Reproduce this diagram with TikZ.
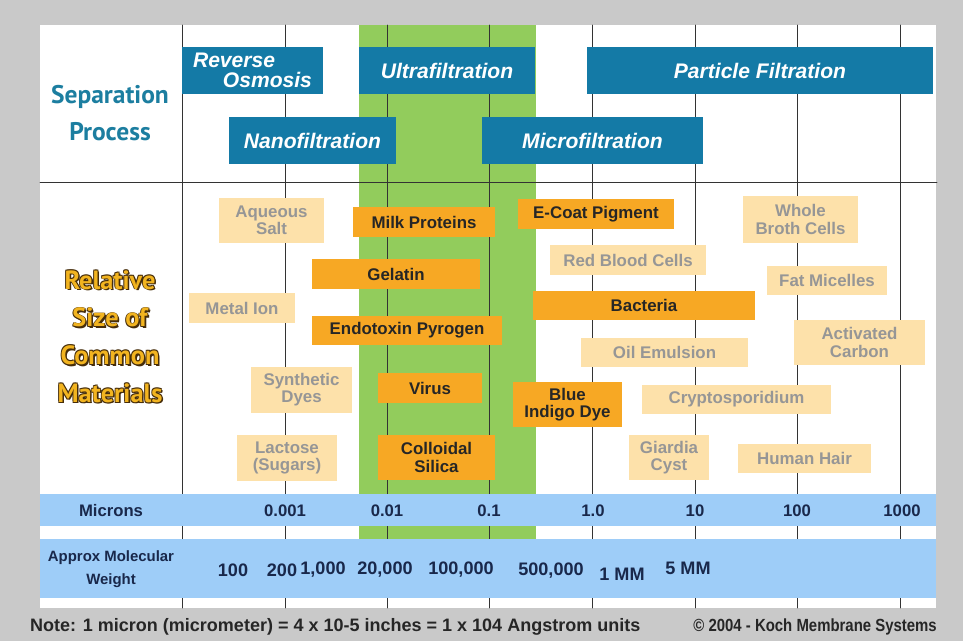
\documentclass[tikz,border=0pt]{standalone}
\usepackage{fontspec}
\usepackage{graphicx}
\setmainfont{Liberation Sans}
\newfontfamily\headfont{PT Sans}

\definecolor{panelgray}{RGB}{201,201,201}
\definecolor{sepblue}{RGB}{20,122,166}
\definecolor{headblue}{RGB}{28,126,160}
\definecolor{ufgreen}{RGB}{146,204,92}
\definecolor{bandblue}{RGB}{158,205,248}
\definecolor{darkorange}{RGB}{247,168,36}
\definecolor{paleorange}{RGB}{253,225,170}
\definecolor{palegray}{RGB}{150,150,150}
\definecolor{navytext}{RGB}{25,40,75}
\definecolor{goldtext}{RGB}{242,180,32}
\definecolor{shadowbrown}{RGB}{70,45,10}

\begin{document}
\begin{tikzpicture}[x=0.02cm, y=-0.02cm, line cap=round, line join=round,
  boxsize/.style 2 args={minimum width=#1*0.02cm, minimum height=#2*0.02cm},
  sepbox/.style={fill=sepblue, text=white, inner sep=0pt,
    font=\fontsize{12}{11.3}\selectfont\bfseries\itshape},
  hardbox/.style={fill=darkorange, text=black!85, inner sep=0pt, align=center,
    font=\fontsize{9.6}{9.8}\selectfont\bfseries},
  softbox/.style={fill=paleorange, text=palegray, inner sep=0pt, align=center,
    font=\fontsize{9.6}{9.8}\selectfont\bfseries},
  scalelbl/.style={text=navytext, font=\fontsize{9.5}{10}\selectfont\bfseries},
  mwlbl/.style={text=navytext, font=\fontsize{10.3}{11}\selectfont\bfseries},
  relfont/.style={align=center, font=\headfont\fontsize{15}{21.5}\selectfont\bfseries}]

  % Gray frame, white panel and the ultrafiltration band
  \fill[panelgray] (0,0) rectangle (963,641);
  \fill[white] (40,25) rectangle (936,608);
  \fill[ufgreen] (359,25) rectangle (536,539);

  % Grid: one vertical line per decade, one rule under the processes
  \foreach \gx in {182,285,387,489,592,695,797,900}
    \draw[black!80, line width=0.5pt] (\gx,25) -- (\gx,608);
  \draw[black!80, line width=0.5pt] (40,182) -- (937,182);

  % Scale bands (light blue)
  \fill[bandblue] (40,494) rectangle (936,526);
  \fill[bandblue] (40,539) rectangle (936,598);

  % Row headings
  \node[text=headblue, align=center,
        font=\headfont\fontsize{14.5}{21}\selectfont\bfseries] (sephead) at (110,113) {Separation\\Process};
  % gold heading with a dark outline and drop shadow
  \foreach \dx/\dy [count=\k] in {1.6/1.6, 0.8/0.8, -0.7/-0.7, 0.7/-0.7, -0.7/0.7}
    \node[relfont, text=shadowbrown] (reledge\k) at (110+\dx,336.5+\dy) {Relative\\Size of\\Common\\Materials};
  \node[relfont, text=goldtext] (relhead) at (110,336.5) {Relative\\Size of\\Common\\Materials};

  % Separation processes
  \node[sepbox, boxsize={141}{47}, align=left] (ro) at (252.5,70.5) {Reverse\\\hspace*{17pt}Osmosis};
  \node[sepbox, boxsize={176}{47}] (uf) at (447,70.5) {Ultrafiltration};
  \node[sepbox, boxsize={346}{47}] (pf) at (760,70.5) {Particle Filtration};
  \node[sepbox, boxsize={167}{47}] (nf) at (312.5,140.5) {Nanofiltration};
  \node[sepbox, boxsize={221}{47}] (mf) at (592.5,140.5) {Microfiltration};

  % Materials, dark orange
  \node[hardbox, boxsize={142}{30}] (milk) at (424,222) {Milk Proteins};
  \node[hardbox, boxsize={168}{30}] (gelatin) at (396,274) {Gelatin};
  \node[hardbox, boxsize={190}{29}] (endotoxin) at (407,330.5) {Endotoxin Pyrogen};
  \node[hardbox, boxsize={156}{30}] (ecoat) at (596,214) {E-Coat Pigment};
  \node[hardbox, boxsize={222}{29}] (bacteria) at (644,305.5) {Bacteria};
  \node[hardbox, boxsize={104}{30}] (virus) at (430,388) {Virus};
  \node[hardbox, boxsize={117}{45}] (silica) at (436.5,457.5) {Colloidal\\Silica};
  \node[hardbox, boxsize={109}{45}] (indigo) at (567.5,404.5) {Blue\\Indigo Dye};

  % Materials, pale orange
  \node[softbox, boxsize={105}{45}] (salt) at (271.5,220.5) {Aqueous\\Salt};
  \node[softbox, boxsize={106}{30}] (metal) at (242,308) {Metal Ion};
  \node[softbox, boxsize={101}{46}] (dyes) at (301.5,390) {Synthetic\\Dyes};
  \node[softbox, boxsize={100}{46}] (lactose) at (287,458) {Lactose\\(Sugars)};
  \node[softbox, boxsize={115}{47}] (broth) at (800.5,219.5) {Whole\\Broth Cells};
  \node[softbox, boxsize={156}{30}] (blood) at (628,260) {Red Blood Cells};
  \node[softbox, boxsize={120}{29}] (micelles) at (827,280.5) {Fat Micelles};
  \node[softbox, boxsize={131}{45}] (carbon) at (859.5,342.5) {Activated\\Carbon};
  \node[softbox, boxsize={167}{29}] (oil) at (664.5,352.5) {Oil Emulsion};
  \node[softbox, boxsize={189}{29}] (crypto) at (736.5,399.5) {Cryptosporidium};
  \node[softbox, boxsize={80}{45}] (giardia) at (669,457.5) {Giardia\\Cyst};
  \node[softbox, boxsize={133}{29}] (hair) at (804.5,458.5) {Human Hair};

  % Micron scale
  \node[scalelbl] (microns) at (111,511) {Microns};
  \foreach \gx/\val in {285/0.001, 387/0.01, 489/0.1, 593/1.0, 695/10, 797/100, 902/1000}
    \node[scalelbl] (mu\gx) at (\gx,511) {\val};

  % Molecular weight scale
  \node[text=navytext, align=center,
        font=\fontsize{8.5}{13}\selectfont\bfseries] (mwhead) at (111,569) {Approx Molecular\\Weight};
  \foreach \mx/\my/\val in {233/570/100, 282/570/200, 323/570/{1,000}, 385/570/{20,000},
                            461/570/{100,000}, 551/571/{500,000}, 622/574/1 MM, 688/568/5 MM}
    \node[mwlbl] (mw\mx) at (\mx,\my) {\val};

  % Footer
  \node[anchor=west, text=black!85, font=\fontsize{10.25}{11}\selectfont\bfseries] (note) at (24,627)
    {Note: 1 micron (micrometer) = 4 x 10-5 inches = 1 x 104 Angstrom units};
  \node[anchor=east, text=black!85, font=\fontsize{10}{11}\selectfont\bfseries] (copyright) at (943,627)
    {\scalebox{0.85}[1]{\textcopyright\ 2004 - Koch Membrane Systems}};

\end{tikzpicture}
\end{document}
